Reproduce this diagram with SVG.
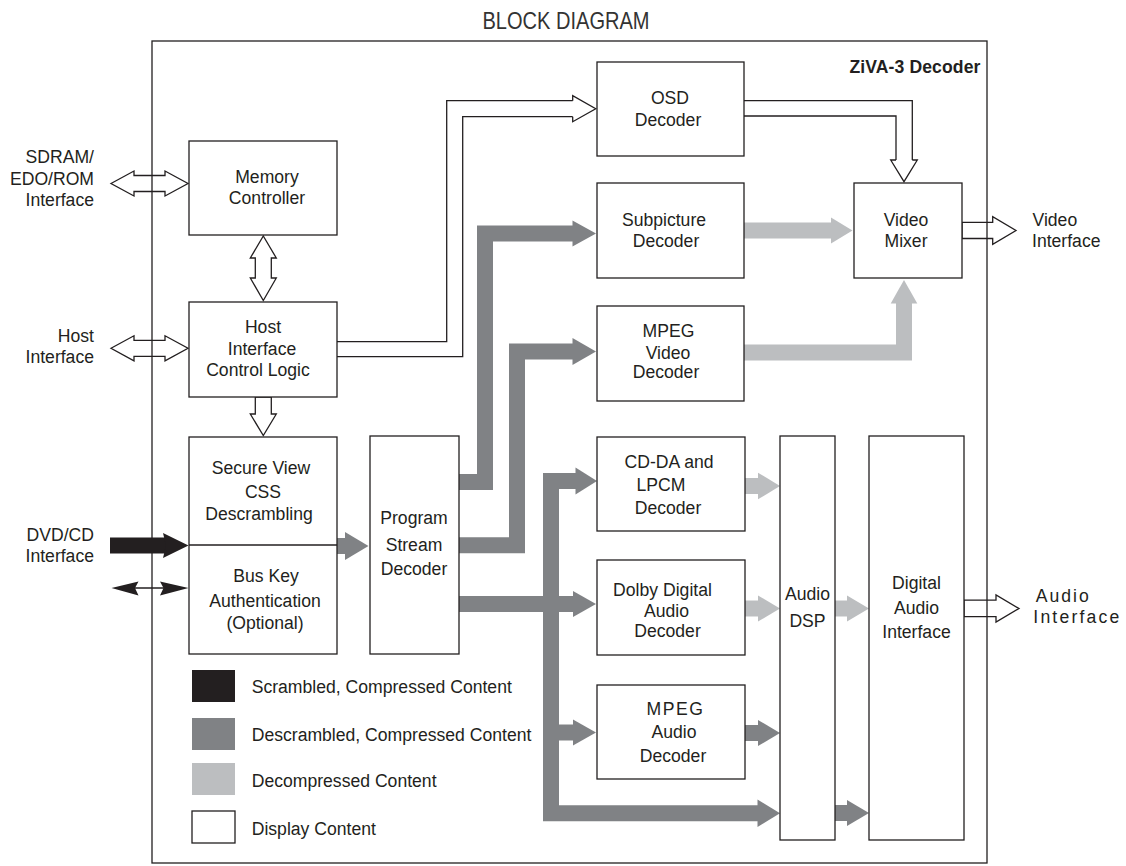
<svg xmlns="http://www.w3.org/2000/svg" width="1126" height="866" viewBox="0 0 1126 866">
<style>
text{font-family:"Liberation Sans",Arial,sans-serif;font-size:17.6px;fill:#231f20}
.c{text-anchor:middle}
.e{text-anchor:end}
.box{fill:#fff;stroke:#231f20;stroke-width:1.3}
.hol{fill:none;stroke:#231f20;stroke-width:1.3;stroke-linejoin:miter}
.dk{fill:none;stroke:#808285;stroke-width:16;stroke-linejoin:miter;stroke-miterlimit:10}
.lt{fill:none;stroke:#bcbec0;stroke-width:16;stroke-linejoin:miter;stroke-miterlimit:10}
.dkh{fill:#808285}
.lth{fill:#bcbec0}
.blk{fill:#231f20}
</style>
<rect width="1126" height="866" fill="#fff"/>
<text x="566" y="28.5" class="c" style="font-size:24px;fill:#333" textLength="167" lengthAdjust="spacingAndGlyphs">BLOCK DIAGRAM</text>
<rect id="chip" x="152" y="41" width="835" height="822" fill="none" stroke="#231f20" stroke-width="1.3"/>
<text x="980.5" y="72.7" class="e" style="font-weight:bold;letter-spacing:0.1px">ZiVA-3 Decoder</text>

<g id="connectors">
  <!-- descrambled (dark gray) -->
  <path class="dk" d="M459,482 H485 V233.5 H574"/>
  <polygon class="dkh" points="572.5,220.5 596,233.5 572.5,246.5"/>
  <path class="dk" d="M459,545.3 H517 V351.5 H574"/>
  <polygon class="dkh" points="572.5,338 596,351.5 572.5,365"/>
  <path class="dk" d="M459,604 H574"/>
  <polygon class="dkh" points="573,591 596,604 573,617"/>
  <path class="dk" d="M576,481 H551 V813.3 H759"/>
  <polygon class="dkh" points="575.5,467.5 597,481 575.5,494.5"/>
  <polygon class="dkh" points="757.5,799.5 780,813.3 757.5,827"/>
  <path class="dk" d="M551,732.5 H574"/>
  <polygon class="dkh" points="573,719.5 596,732.5 573,745.5"/>
  <path class="dk" d="M745,733 H759"/>
  <polygon class="dkh" points="758,720 780,733 758,746"/>
  <path class="dk" d="M835,813 H848"/>
  <polygon class="dkh" points="847,800 869,813 847,826"/>
  <path class="dk" d="M337,546 H346"/>
  <polygon class="dkh" points="345,532 368.5,546 345,560"/>
  <!-- decompressed (light gray) -->
  <path class="lt" d="M744,230.5 H832"/>
  <polygon class="lth" points="831,217.5 852.5,230.5 831,243.5"/>
  <path class="lt" d="M744,352.5 H904 V302"/>
  <polygon class="lth" points="890.7,303.5 904,280 917.3,303.5"/>
  <path class="lt" d="M745,486 H759"/>
  <polygon class="lth" points="758,472.7 780,486 758,499.3"/>
  <path class="lt" d="M745,608.5 H759"/>
  <polygon class="lth" points="758,595.5 780,608.5 758,621.5"/>
  <path class="lt" d="M835,608.5 H848"/>
  <polygon class="lth" points="847,595.5 869,608.5 847,621.5"/>
  <!-- scrambled (black) -->
  <path d="M110,545.5 H167" stroke="#231f20" stroke-width="16" fill="none"/>
  <polygon class="blk" points="163,533 188.5,545.5 163,558 166,545.5"/>
  <path d="M125,588 H175" stroke="#231f20" stroke-width="1.3" fill="none"/>
  <polygon class="blk" points="111.5,588 138.5,581.5 135,588 138.5,595.5"/>
  <polygon class="blk" points="188.5,588 160,581.5 163.5,588 160,595.5"/>
  <!-- display (hollow) -->
  <polygon class="hol" points="111,183.5 134,171 134,175.5 165,175.5 165,171 188,183.5 165,196 165,191.5 134,191.5 134,196"/>
  <polygon class="hol" points="111,348.3 134,335.8 134,340.3 165,340.3 165,335.8 188,348.3 165,360.8 165,356.3 134,356.3 134,360.8"/>
  <polygon class="hol" points="263.3,236 276.3,258 271.3,258 271.3,278 276.3,278 263.3,300.5 250.3,278 255.3,278 255.3,258 250.3,258"/>
  <polygon class="hol" points="255.3,397 271.3,397 271.3,414 276.3,414 263.3,435.5 250.3,414 255.3,414"/>
  <path class="hol" d="M337,341.7 H446.7 V100.7 H572.7 M337,356.7 H462.7 V116.7 H572.7 M572.7,100.7 V95.7 L595.7,108.7 L572.7,121.7 V116.7"/>
  <path class="hol" d="M744,100.7 H912.3 V160 M744,116 H896 V160 M896,160 H890.7 L904,181.7 L917.3,160 H912.3"/>
  <polygon class="hol" points="962,222.3 992.7,222.3 992.7,216.7 1016,230.5 992.7,244.3 992.7,238.5 962,238.5"/>
  <polygon class="hol" points="964,600.2 996,600.2 996,595 1019,608.5 996,622 996,616.7 964,616.7"/>
</g>

<g id="memory-controller">
  <rect class="box" x="189" y="141" width="148" height="94"/>
  <text x="267" y="183" class="c">Memory</text>
  <text x="267" y="204" class="c">Controller</text>
</g>
<g id="host-logic">
  <rect class="box" x="189" y="302" width="148" height="95"/>
  <text x="263" y="333.3" class="c">Host</text>
  <text x="262" y="355" class="c">Interface</text>
  <text x="258" y="376" class="c">Control Logic</text>
</g>
<g id="css-buskey">
  <rect class="box" x="189" y="437" width="148" height="217"/>
  <line x1="189" y1="545" x2="337" y2="545" stroke="#231f20" stroke-width="1.3"/>
  <text x="261" y="474" class="c">Secure View</text>
  <text x="263" y="498.3" class="c">CSS</text>
  <text x="259" y="520" class="c">Descrambling</text>
  <text x="266" y="581.7" class="c">Bus Key</text>
  <text x="265" y="606.7" class="c">Authentication</text>
  <text x="265" y="629" class="c">(Optional)</text>
</g>
<g id="program-stream">
  <rect class="box" x="370" y="436" width="89" height="218"/>
  <text x="414" y="524" class="c">Program</text>
  <text x="414" y="550.7" class="c">Stream</text>
  <text x="414" y="574.7" class="c">Decoder</text>
</g>
<g id="osd">
  <rect class="box" x="597" y="62" width="147" height="94"/>
  <text x="670" y="104" class="c">OSD</text>
  <text x="668" y="126" class="c">Decoder</text>
</g>
<g id="subpicture">
  <rect class="box" x="597" y="183" width="147" height="95"/>
  <text x="664" y="225.7" class="c">Subpicture</text>
  <text x="666" y="246.7" class="c">Decoder</text>
</g>
<g id="mpeg-video">
  <rect class="box" x="597" y="306" width="147" height="95"/>
  <text x="668.5" y="337.3" class="c">MPEG</text>
  <text x="668" y="358.7" class="c">Video</text>
  <text x="666" y="378.3" class="c">Decoder</text>
</g>
<g id="video-mixer">
  <rect class="box" x="854" y="183" width="108" height="95"/>
  <text x="906" y="226" class="c">Video</text>
  <text x="906" y="246.7" class="c">Mixer</text>
</g>
<g id="cdda">
  <rect class="box" x="597" y="437" width="148" height="94"/>
  <text x="669" y="467.7" class="c">CD-DA and</text>
  <text x="661" y="491" class="c">LPCM</text>
  <text x="668" y="514.3" class="c">Decoder</text>
</g>
<g id="dolby">
  <rect class="box" x="597" y="560" width="148" height="95"/>
  <text x="662.5" y="595.7" class="c">Dolby Digital</text>
  <text x="666.5" y="616.7" class="c">Audio</text>
  <text x="667.5" y="637.3" class="c">Decoder</text>
</g>
<g id="mpeg-audio">
  <rect class="box" x="597" y="685" width="148" height="94"/>
  <text x="675.5" y="715" class="c" style="letter-spacing:1.5px">MPEG</text>
  <text x="674" y="738.3" class="c">Audio</text>
  <text x="673" y="761.7" class="c">Decoder</text>
</g>
<g id="audio-dsp">
  <rect class="box" x="780" y="436" width="55" height="404"/>
  <text x="807.5" y="600" class="c">Audio</text>
  <text x="807.5" y="626.7" class="c">DSP</text>
</g>
<g id="digital-audio-interface">
  <rect class="box" x="869" y="436" width="95" height="404"/>
  <text x="916.5" y="589.3" class="c">Digital</text>
  <text x="916.5" y="614.3" class="c">Audio</text>
  <text x="916.5" y="638.3" class="c">Interface</text>
</g>

<g id="ext-labels">
  <text x="94" y="162.7" class="e">SDRAM/</text>
  <text x="94" y="185" class="e">EDO/ROM</text>
  <text x="94" y="206" class="e">Interface</text>
  <text x="94" y="342" class="e">Host</text>
  <text x="94" y="363.3" class="e">Interface</text>
  <text x="94" y="540.7" class="e">DVD/CD</text>
  <text x="94" y="561.7" class="e">Interface</text>
  <text x="1032.5" y="225.7">Video</text>
  <text x="1032" y="246.7">Interface</text>
  <text x="1035.7" y="601.7" style="letter-spacing:2px">Audio</text>
  <text x="1033.3" y="622.7" style="letter-spacing:2.2px">Interface</text>
</g>

<g id="legend">
  <rect x="192" y="670" width="43" height="32" fill="#231f20"/>
  <rect x="192" y="718" width="43" height="32" fill="#808285"/>
  <rect x="192" y="763" width="43" height="32" fill="#bcbec0"/>
  <rect x="192" y="811" width="43" height="32" fill="#fff" stroke="#231f20" stroke-width="1.3"/>
  <text x="251.7" y="693.3">Scrambled, Compressed Content</text>
  <text x="251.7" y="740.7">Descrambled, Compressed Content</text>
  <text x="251.7" y="786.7">Decompressed Content</text>
  <text x="251.7" y="835">Display Content</text>
</g>
</svg>
